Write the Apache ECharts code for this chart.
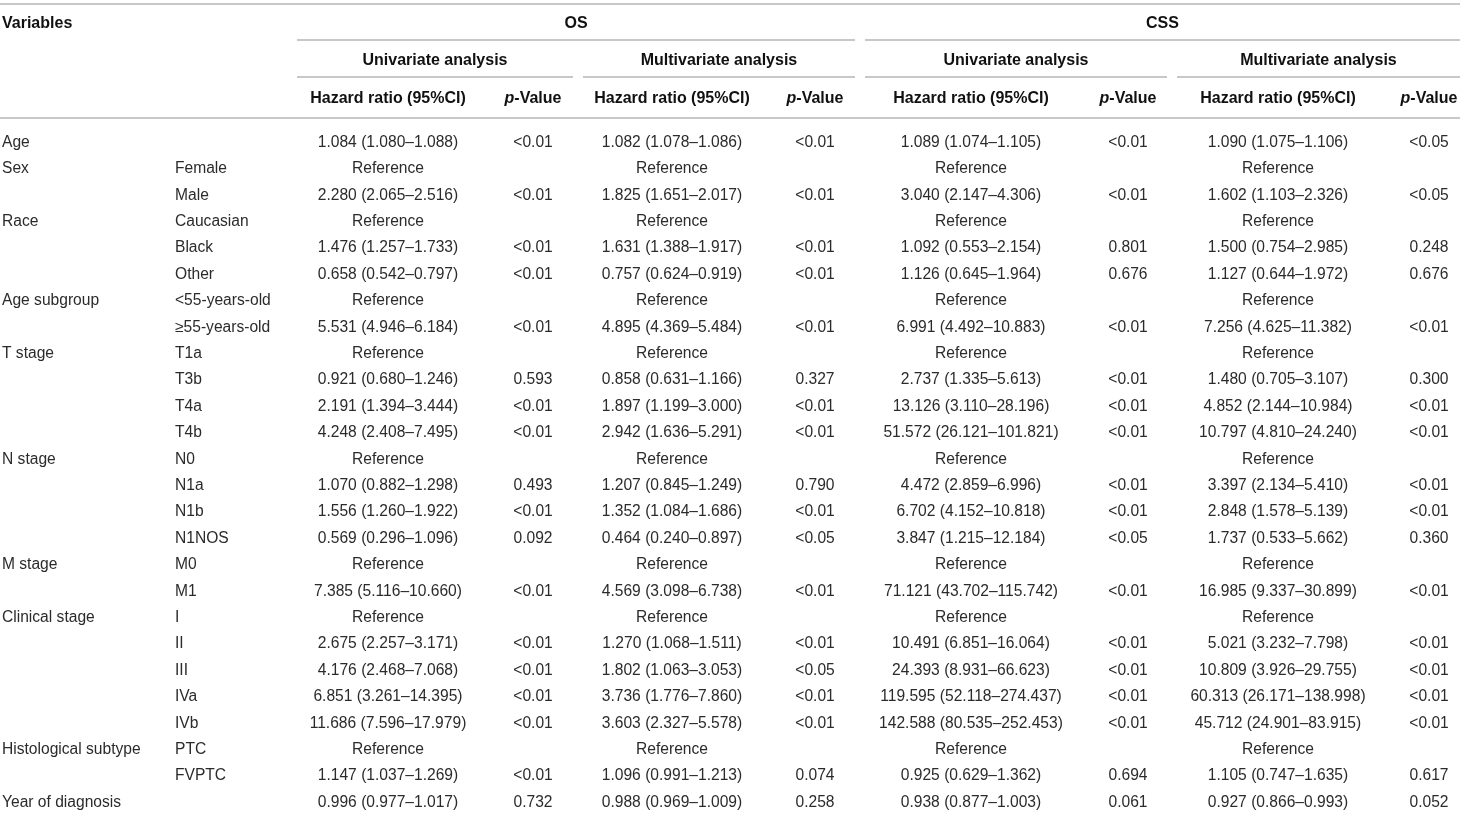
<!DOCTYPE html>
<html>
<head>
<meta charset="utf-8">
<title>Cox regression table</title>
<script src="https://cdn.jsdelivr.net/npm/echarts@6/dist/echarts.min.js"></script>
<style>
  html, body { margin: 0; padding: 0; background: #fff; }
  #main { width: 1460px; height: 813px; }
</style>
</head>
<body>
<div id="main"></div>
<script>
// row labels
const variables = ['Age', 'Sex', '', 'Race', '', '', 'Age subgroup', '', 'T stage', '', '', '',
  'N stage', '', '', '', 'M stage', '', 'Clinical stage', '', '', '', '', 'Histological subtype', '', 'Year of diagnosis'];
const subgroups = ['', 'Female', 'Male', 'Caucasian', 'Black', 'Other', '<55-years-old', '\u226555-years-old',
  'T1a', 'T3b', 'T4a', 'T4b', 'N0', 'N1a', 'N1b', 'N1NOS', 'M0', 'M1', 'I', 'II', 'III', 'IVa', 'IVb', 'PTC', 'FVPTC', ''];

// hazard ratios [estimate, lower, upper]; null = reference level
const osUniHR = [[1.084, 1.080, 1.088], null, [2.280, 2.065, 2.516], null, [1.476, 1.257, 1.733], [0.658, 0.542, 0.797],
  null, [5.531, 4.946, 6.184], null, [0.921, 0.680, 1.246], [2.191, 1.394, 3.444], [4.248, 2.408, 7.495],
  null, [1.070, 0.882, 1.298], [1.556, 1.260, 1.922], [0.569, 0.296, 1.096], null, [7.385, 5.116, 10.660],
  null, [2.675, 2.257, 3.171], [4.176, 2.468, 7.068], [6.851, 3.261, 14.395], [11.686, 7.596, 17.979],
  null, [1.147, 1.037, 1.269], [0.996, 0.977, 1.017]];
const osUniP = ['<0.01', '', '<0.01', '', '<0.01', '<0.01', '', '<0.01', '', '0.593', '<0.01', '<0.01',
  '', '0.493', '<0.01', '0.092', '', '<0.01', '', '<0.01', '<0.01', '<0.01', '<0.01', '', '<0.01', '0.732'];

const osMultiHR = [[1.082, 1.078, 1.086], null, [1.825, 1.651, 2.017], null, [1.631, 1.388, 1.917], [0.757, 0.624, 0.919],
  null, [4.895, 4.369, 5.484], null, [0.858, 0.631, 1.166], [1.897, 1.199, 3.000], [2.942, 1.636, 5.291],
  null, [1.207, 0.845, 1.249], [1.352, 1.084, 1.686], [0.464, 0.240, 0.897], null, [4.569, 3.098, 6.738],
  null, [1.270, 1.068, 1.511], [1.802, 1.063, 3.053], [3.736, 1.776, 7.860], [3.603, 2.327, 5.578],
  null, [1.096, 0.991, 1.213], [0.988, 0.969, 1.009]];
const osMultiP = ['<0.01', '', '<0.01', '', '<0.01', '<0.01', '', '<0.01', '', '0.327', '<0.01', '<0.01',
  '', '0.790', '<0.01', '<0.05', '', '<0.01', '', '<0.01', '<0.05', '<0.01', '<0.01', '', '0.074', '0.258'];

const cssUniHR = [[1.089, 1.074, 1.105], null, [3.040, 2.147, 4.306], null, [1.092, 0.553, 2.154], [1.126, 0.645, 1.964],
  null, [6.991, 4.492, 10.883], null, [2.737, 1.335, 5.613], [13.126, 3.110, 28.196], [51.572, 26.121, 101.821],
  null, [4.472, 2.859, 6.996], [6.702, 4.152, 10.818], [3.847, 1.215, 12.184], null, [71.121, 43.702, 115.742],
  null, [10.491, 6.851, 16.064], [24.393, 8.931, 66.623], [119.595, 52.118, 274.437], [142.588, 80.535, 252.453],
  null, [0.925, 0.629, 1.362], [0.938, 0.877, 1.003]];
const cssUniP = ['<0.01', '', '<0.01', '', '0.801', '0.676', '', '<0.01', '', '<0.01', '<0.01', '<0.01',
  '', '<0.01', '<0.01', '<0.05', '', '<0.01', '', '<0.01', '<0.01', '<0.01', '<0.01', '', '0.694', '0.061'];

const cssMultiHR = [[1.090, 1.075, 1.106], null, [1.602, 1.103, 2.326], null, [1.500, 0.754, 2.985], [1.127, 0.644, 1.972],
  null, [7.256, 4.625, 11.382], null, [1.480, 0.705, 3.107], [4.852, 2.144, 10.984], [10.797, 4.810, 24.240],
  null, [3.397, 2.134, 5.410], [2.848, 1.578, 5.139], [1.737, 0.533, 5.662], null, [16.985, 9.337, 30.899],
  null, [5.021, 3.232, 7.798], [10.809, 3.926, 29.755], [60.313, 26.171, 138.998], [45.712, 24.901, 83.915],
  null, [1.105, 0.747, 1.635], [0.927, 0.866, 0.993]];
const cssMultiP = ['<0.05', '', '<0.05', '', '0.248', '0.676', '', '<0.01', '', '0.300', '<0.01', '<0.01',
  '', '<0.01', '<0.01', '0.360', '', '<0.01', '', '<0.01', '<0.01', '<0.01', '<0.01', '', '0.617', '0.052'];

// header texts
const groupHeaders = ['OS', 'CSS'];
const analysisHeaders = ['Univariate analysis', 'Multivariate analysis', 'Univariate analysis', 'Multivariate analysis'];

// ---- layout (pixels) ----
const ROW0 = 141, PITCH = 26.4;
const toRow = px => (px - ROW0) / PITCH;
const X_VAR = 2, X_SUB = 175;
const hrX = [388, 672, 971, 1278];
const pX = [533, 815, 1128, 1429];
const groupSpan = [[297, 855], [865, 1460]];
const analysisSpan = [[297, 573], [583, 855], [865, 1167], [1177, 1460]];
const Y_H1 = toRow(22), Y_H2 = toRow(59), Y_H3 = toRow(97);
const FONT = '"Liberation Sans", Arial, sans-serif';

const fmtHR = v => v === null ? 'Reference' : v[0].toFixed(3) + ' (' + v[1].toFixed(3) + '\u2013' + v[2].toFixed(3) + ')';

const cells = [];
const bodyFont = { fontSize: 15.6, fill: '#2b2b2b', bold: false };
const headFont = { fontSize: 16, fill: '#111', bold: true };

cells.push({ x: X_VAR, y: Y_H1, text: 'Variables', align: 'left', f: headFont });
groupHeaders.forEach((t, i) => cells.push({ x: (groupSpan[i][0] + groupSpan[i][1]) / 2, y: Y_H1, text: t, align: 'center', f: headFont }));
analysisHeaders.forEach((t, i) => cells.push({ x: (analysisSpan[i][0] + analysisSpan[i][1]) / 2, y: Y_H2, text: t, align: 'center', f: headFont }));
for (let i = 0; i < 4; i++) {
  cells.push({ x: hrX[i], y: Y_H3, text: 'Hazard ratio (95%CI)', align: 'center', f: headFont });
  cells.push({ x: pX[i], y: Y_H3, text: '{i|p}-Value', align: 'center', f: headFont, rich: true });
}

const hrCols = [osUniHR, osMultiHR, cssUniHR, cssMultiHR];
const pCols = [osUniP, osMultiP, cssUniP, cssMultiP];
variables.forEach((v, r) => {
  if (v) cells.push({ x: X_VAR, y: r, text: v, align: 'left', f: bodyFont });
  if (subgroups[r]) cells.push({ x: X_SUB, y: r, text: subgroups[r], align: 'left', f: bodyFont });
  hrCols.forEach((col, c) => cells.push({ x: hrX[c], y: r, text: fmtHR(col[r]), align: 'center', f: bodyFont }));
  pCols.forEach((col, c) => { if (col[r]) cells.push({ x: pX[c], y: r, text: col[r], align: 'center', f: bodyFont }); });
});

// horizontal rules [x1, x2, y]
const rules = [[0, 1460, toRow(4)], [0, 1460, toRow(118)]];
groupSpan.forEach(s => rules.push([s[0], s[1], toRow(40)]));
analysisSpan.forEach(s => rules.push([s[0], s[1], toRow(77)]));

const chart = echarts.init(document.getElementById('main'));
chart.setOption({
  animation: false,
  grid: { left: 0, right: 0, top: 0, bottom: 0 },
  xAxis: { type: 'value', min: 0, max: 1460, show: false },
  yAxis: { type: 'value', inverse: true, min: toRow(0), max: toRow(813), show: false },
  series: [
    {
      type: 'custom',
      name: 'rules',
      clip: false,
      data: rules,
      renderItem: function (params, api) {
        const a = api.coord([api.value(0), api.value(2)]);
        const b = api.coord([api.value(1), api.value(2)]);
        return {
          type: 'line',
          shape: { x1: a[0], y1: a[1], x2: b[0], y2: b[1] },
          style: { stroke: '#c8c8c8', lineWidth: 2 }
        };
      }
    },
    {
      type: 'custom',
      name: 'cells',
      clip: false,
      data: cells.map(c => [c.x, c.y]),
      renderItem: function (params, api) {
        const c = cells[params.dataIndex];
        const pt = api.coord([api.value(0), api.value(1)]);
        const style = {
          text: c.text,
          x: 0, y: 1.5,
          align: c.align,
          verticalAlign: 'middle',
          fontFamily: FONT,
          fontSize: c.f.fontSize,
          fontWeight: c.f.bold ? 'bold' : 'normal',
          fill: c.f.fill
        };
        if (c.rich) style.rich = { i: { fontStyle: 'italic', fontWeight: 'bold', fontSize: c.f.fontSize, fill: c.f.fill, fontFamily: FONT } };
        return { type: 'text', x: pt[0], y: pt[1], style: style };
      }
    }
  ]
});
</script>
</body>
</html>
